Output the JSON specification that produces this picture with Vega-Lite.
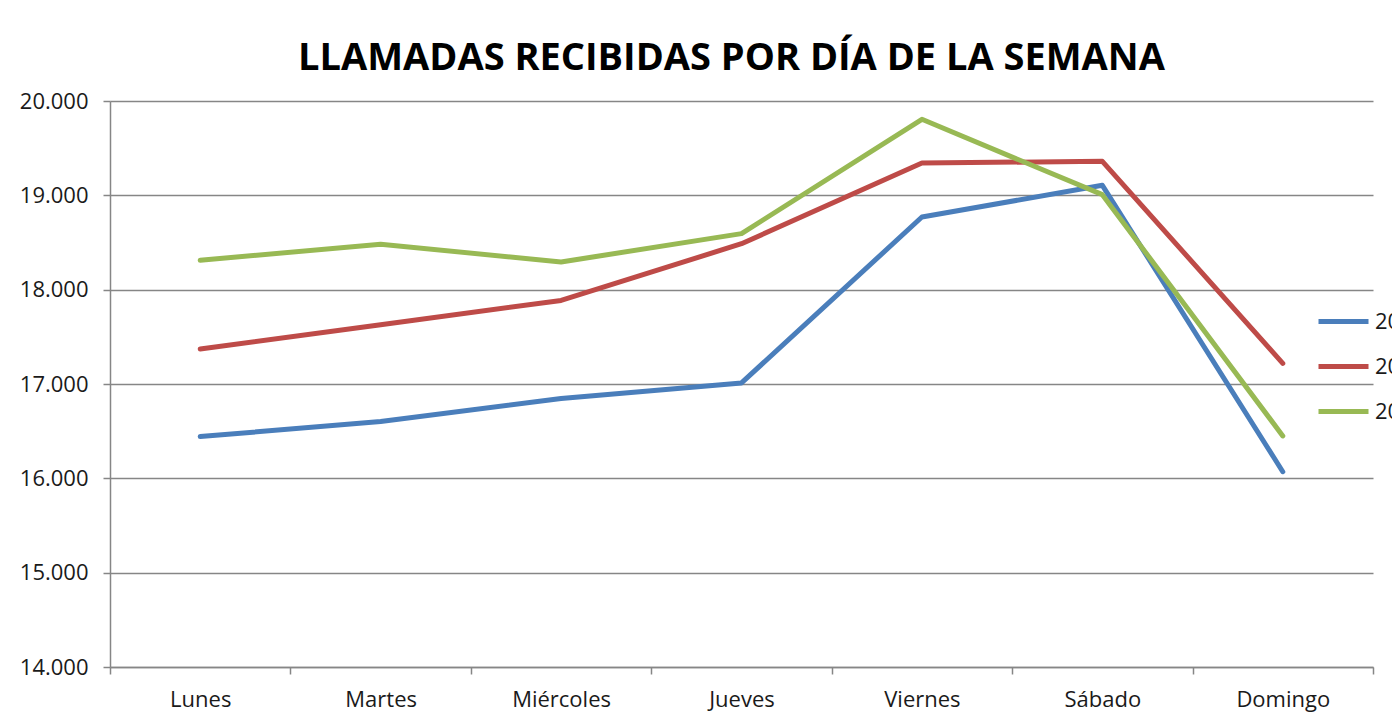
{
  "$schema": "https://vega.github.io/schema/vega-lite/v6.json",
  "autosize": "none",
  "width": 1263,
  "height": 566,
  "padding": {"left": 110, "top": 101, "right": 19, "bottom": 49},
  "background": "white",
  "title": {
    "text": "LLAMADAS RECIBIDAS POR DÍA DE LA SEMANA",
    "font": "Open Sans",
    "fontSize": 38,
    "fontWeight": "bold",
    "color": "#000000",
    "anchor": "middle",
    "baseline": "alphabetic",
    "offset": 28,
    "dx": -10,
    "dy": 46
  },
  "data": {
    "values": [
      {"dia": "Lunes", "serie": "2012", "llamadas": 16443},
      {"dia": "Martes", "serie": "2012", "llamadas": 16602},
      {"dia": "Miércoles", "serie": "2012", "llamadas": 16847},
      {"dia": "Jueves", "serie": "2012", "llamadas": 17011},
      {"dia": "Viernes", "serie": "2012", "llamadas": 18770},
      {"dia": "Sábado", "serie": "2012", "llamadas": 19106},
      {"dia": "Domingo", "serie": "2012", "llamadas": 16070},
      {"dia": "Lunes", "serie": "2013", "llamadas": 17372},
      {"dia": "Martes", "serie": "2013", "llamadas": 17628},
      {"dia": "Miércoles", "serie": "2013", "llamadas": 17886},
      {"dia": "Jueves", "serie": "2013", "llamadas": 18487},
      {"dia": "Viernes", "serie": "2013", "llamadas": 19343},
      {"dia": "Sábado", "serie": "2013", "llamadas": 19360},
      {"dia": "Domingo", "serie": "2013", "llamadas": 17219},
      {"dia": "Lunes", "serie": "2014", "llamadas": 18312},
      {"dia": "Martes", "serie": "2014", "llamadas": 18482},
      {"dia": "Miércoles", "serie": "2014", "llamadas": 18294},
      {"dia": "Jueves", "serie": "2014", "llamadas": 18594},
      {"dia": "Viernes", "serie": "2014", "llamadas": 19806},
      {"dia": "Sábado", "serie": "2014", "llamadas": 19007},
      {"dia": "Domingo", "serie": "2014", "llamadas": 16450}
    ]
  },
  "mark": {"type": "line", "strokeWidth": 5, "strokeCap": "round", "strokeJoin": "round"},
  "encoding": {
    "x": {
      "field": "dia",
      "type": "nominal",
      "sort": ["Lunes", "Martes", "Miércoles", "Jueves", "Viernes", "Sábado", "Domingo"],
      "scale": {"type": "band", "paddingInner": 0, "paddingOuter": 0},
      "axis": {
        "title": null,
        "labelAngle": 0,
        "tickBand": "extent",
        "grid": false,
        "tickSize": 7,
        "labelPadding": 15
      }
    },
    "y": {
      "field": "llamadas",
      "type": "quantitative",
      "scale": {"domain": [14000, 20000], "nice": false, "zero": false},
      "axis": {
        "title": null,
        "values": [14000, 15000, 16000, 17000, 18000, 19000, 20000],
        "format": ",d",
        "tickSize": 7,
        "labelPadding": 15,
        "grid": true
      }
    },
    "color": {
      "field": "serie",
      "type": "nominal",
      "scale": {"domain": ["2012", "2013", "2014"], "range": ["#4A7EBB", "#BE4B48", "#98B954"]},
      "legend": {
        "title": null,
        "orient": "none",
        "legendX": 1206,
        "legendY": 193,
        "direction": "vertical",
        "symbolType": "stroke",
        "symbolSize": 2500,
        "symbolStrokeWidth": 5,
        "labelFont": "Open Sans",
        "labelFontSize": 22,
        "labelColor": "#1a1a1a",
        "labelOffset": 4,
        "labelLimit": 300,
        "rowPadding": 6
      }
    }
  },
  "config": {
    "locale": {"number": {"decimal": ",", "thousands": ".", "grouping": [3], "currency": ["", " €"]}},
    "view": {"stroke": null},
    "axis": {
      "labelFont": "Open Sans",
      "labelFontSize": 22,
      "labelColor": "#1a1a1a",
      "domainColor": "#868686",
      "domainWidth": 1.5,
      "tickColor": "#868686",
      "tickWidth": 1.5,
      "gridColor": "#868686",
      "gridWidth": 1.5,
      "gridOpacity": 1
    }
  }
}
